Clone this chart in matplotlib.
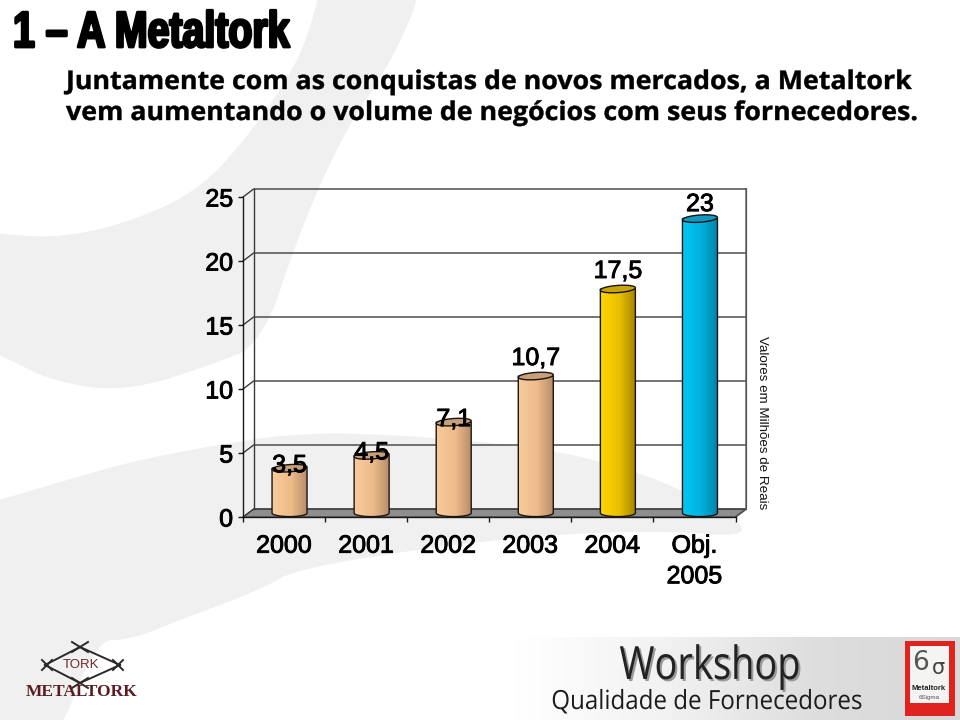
import numpy as np
import matplotlib
matplotlib.use("Agg")
import matplotlib.pyplot as plt
import matplotlib.patheffects as pe
from matplotlib.colors import LinearSegmentedColormap, to_rgb
from matplotlib.patches import Polygon, Rectangle
from matplotlib.transforms import Affine2D

# chart values
years = ["2000", "2001", "2002", "2003", "2004", "Obj.\n2005"]
values = [3.5, 4.5, 7.1, 10.7, 17.5, 23]
value_labels = ["3,5", "4,5", "7,1", "10,7", "17,5", "23"]
y_ticks = [0, 5, 10, 15, 20, 25]

# left, middle, right shade of each cylinder and colour of its lid
tan = ["#f8cb9c", "#eebb8a", "#b98f69"]
gold = ["#ffd600", "#e9c000", "#a88900"]
blue = ["#00c8f6", "#00b0df", "#0087ab"]
bar_shades = [tan, tan, tan, tan, gold, blue]
lid_colors = ["#c79f7a", "#c79f7a", "#c79f7a", "#c79f7a", "#c8a30a", "#1398c3"]
label_lift = [3, 3, 3, 18, 18, 14.5]  # pixels from lid to label centre


class Stretch(pe.AbstractPathEffect):
    # the installed fonts have no condensed cuts, so squeeze the glyphs around x0
    def __init__(self, sx, x0, lw=0.0, dx=0, dy=0, color=None):
        super().__init__()
        self.sx, self.x0, self.lw, self.dx, self.dy, self.color = sx, x0, lw, dx, dy, color

    def draw_path(self, renderer, gc, tpath, affine, rgbFace=None):
        squeeze = Affine2D().translate(-self.x0, 0).scale(self.sx, 1).translate(self.x0 + self.dx, self.dy)
        face = to_rgb(self.color) if self.color is not None else rgbFace
        gc0 = renderer.new_gc()
        gc0.copy_properties(gc)
        gc0.set_foreground(face)
        gc0.set_linewidth(self.lw)
        renderer.draw_path(gc0, tpath, affine + squeeze, face)
        gc0.restore()


def smooth(points, rounds=3):
    # corner cutting so the background bands look like curves
    pts = np.array(points, dtype=float)
    for _ in range(rounds):
        nxt = np.roll(pts, -1, axis=0)
        pts = np.c_[0.75 * pts + 0.25 * nxt, 0.25 * pts + 0.75 * nxt].reshape(-1, 2)
    return pts


plt.rcParams['font.family'] = ['Liberation Sans', 'DejaVu Sans']
fig = plt.figure(figsize=(9.6, 7.2), dpi=100, facecolor="white")

# slide background, drawn in pixel coordinates
bg = fig.add_axes([0, 0, 1, 1])
bg.set_xlim(0, 960)
bg.set_ylim(720, 0)
bg.axis("off")
swoosh = "#f0f0f0"
bg.add_patch(Polygon(smooth([(325, -30), (310, 30), (293, 70), (253, 130), (200, 190), (130, 222), (60, 238),
                             (0, 234), (-80, 225), (-80, 320), (15, 362), (45, 378), (100, 390), (150, 385),
                             (210, 365), (262, 345), (300, 230), (345, 130), (393, 60), (430, -30)]),
                     fc=swoosh, ec="none"))
bg.add_patch(Polygon(smooth([(-80, 520), (0, 500), (60, 482), (130, 462), (200, 448), (300, 432), (420, 436),
                             (560, 450), (665, 480), (770, 538), (650, 530), (500, 538), (300, 567), (260, 590),
                             (180, 620), (130, 640), (95, 640), (50, 760), (-80, 760)]), fc=swoosh, ec="none"))
footer = LinearSegmentedColormap.from_list("footer", ["#ffffff", "#ffffff", "#f2f2f2", "#dedede", "#d8d8d8"])
bg.imshow(np.linspace(0, 1, 256)[None, :], cmap=footer, extent=(370, 960, 720, 637), aspect="auto", zorder=0)
bg.set_xlim(0, 960)
bg.set_ylim(720, 0)

# heading
bg.text(13, 47, "1 – A Metaltork", weight="bold", fontsize=36.5, color="black", va="baseline",
        path_effects=[Stretch(0.775, 13, lw=2.0)])
for line, y in [("Juntamente com as conquistas de novos mercados, a Metaltork", 89),
                ("vem aumentando o volume de negócios com seus fornecedores.", 120)]:
    bg.text(66, y, line, family="Open Sans", weight="bold", fontsize=18.5, color="black", va="baseline",
            path_effects=[Stretch(1.042, 66, lw=0.3)])

# footer texts and logos
bg.text(710, 679, "Workshop", family="Open Sans", fontsize=33, color="#222222", ha="center", va="baseline",
        path_effects=[Stretch(0.83, 710, dx=2, dy=-2, color="#9a9a9a"), Stretch(0.83, 710)])
bg.text(707, 709, "Qualidade de Fornecedores", family="Open Sans", fontsize=19, color="#1c1c1c", ha="center",
        va="baseline", path_effects=[Stretch(0.915, 707)])
for a, b in [((45, 665), (80, 647)), ((80, 647), (120, 665)), ((45, 665), (80, 683)), ((80, 683), (120, 665)),
             ((42, 660), (52, 670)), ((42, 670), (52, 660)), ((113, 660), (123, 670)), ((113, 670), (123, 660)),
             ((72, 642), (88, 652)), ((72, 652), (88, 642)), ((72, 678), (88, 688)), ((72, 688), (88, 678))]:
    bg.plot([a[0], b[0]], [a[1], b[1]], color="#2a2a2a", lw=1.4)
bg.text(81, 665, "TORK", fontsize=9.5, color="#6e2a2c", ha="center", va="center")
bg.text(82, 692, "METALTORK", family="Liberation Serif", weight="bold", fontsize=12.5, color="#5a1c22", ha="center",
        va="center")
bg.add_patch(Rectangle((905, 641), 50, 75, fc="#e0231f", ec="none"))
bg.add_patch(Rectangle((910, 646), 39, 57, fc="#f4f4f2", ec="none"))
bg.text(920, 663, "6", family="DejaVu Sans", fontsize=19, color="#555555", ha="center", va="center")
bg.text(938, 668, "σ", family="DejaVu Sans", fontsize=15, color="#444444", ha="center", va="center")
bg.text(929, 689, "Metaltork", weight="bold", fontsize=5.5, color="#222222", ha="center", va="center")
bg.text(929, 697, "6Sigma", fontsize=4.5, color="#555555", ha="center", va="center")

# chart axes sit on the front plane of the 3D box
ax = fig.add_axes([243 / 960, (720 - 517) / 720, 492.5 / 960, 320 / 720])
ax.patch.set_visible(False)
ax.set_xlim(-0.5, 5.5)
ax.set_ylim(0, 25)
ax.autoscale(False)

px_x = 6 / 492.5  # one pixel in data units
px_y = 25 / 320
depth_x, depth_y = 10.7 * px_x, 8 * px_y
wall = "#3c3c3c"

ax.add_patch(Polygon([(-0.5, 0), (5.5, 0), (5.5 + depth_x, depth_y), (-0.5 + depth_x, depth_y)],
                     fc="#8e8e8e", ec=wall, lw=0.8, clip_on=False, zorder=1))
for t in y_ticks:
    ax.plot([-0.5, -0.5 + depth_x, 5.5 + depth_x], [t, t + depth_y, t + depth_y], color=wall, lw=1.0, clip_on=False,
            zorder=1, solid_joinstyle="miter")
ax.plot([-0.5 + depth_x] * 2, [depth_y, 25 + depth_y], color=wall, lw=1.0, clip_on=False, zorder=1)
ax.plot([5.5, 5.5 + depth_x, 5.5 + depth_x], [0, depth_y, 25 + depth_y], color="#555555", lw=1.3, clip_on=False,
        zorder=1)

# cylinders
x = np.arange(len(values))
half_w = 17.5 * px_x
ry = 3.6 * px_y
tilt = 1.2 * px_y
shift_x, shift_y = 5.5 * px_x, 4 * px_y
ramp = np.linspace(0, 1, 128)[None, :]
t = np.linspace(0, 2 * np.pi, 60)
for xi, v, shades, lid in zip(x, values, bar_shades, lid_colors):
    cx = xi + shift_x
    base = shift_y
    top = v + shift_y
    ax.bar(cx, v, width=2 * half_w, bottom=base, color=shades[1], zorder=2)
    lid_x = cx + half_w * np.cos(t)
    lid_y = top + ry * np.sin(t) + tilt * np.cos(t)
    low = np.linspace(np.pi, 2 * np.pi, 30)
    outline_x = np.r_[cx - half_w, cx + half_w * np.cos(low), cx + half_w]
    outline_y = np.r_[top, base + ry * np.sin(low), top]
    body = Polygon(np.c_[outline_x, outline_y], fc="none", ec="#1a1410", lw=1.0, zorder=4, clip_on=False)
    ax.add_patch(body)
    cmap = LinearSegmentedColormap.from_list("cyl", [(0, shades[0]), (0.55, shades[1]), (1, shades[2])])
    im = ax.imshow(ramp, cmap=cmap, extent=(cx - half_w, cx + half_w, base - ry, top + ry), aspect="auto", zorder=3)
    im.set_clip_path(body)
    ax.add_patch(Polygon(np.c_[lid_x, lid_y], fc=lid, ec="#1a1410", lw=1.0, zorder=4, clip_on=False))

bold_look = [pe.withStroke(linewidth=0.65, foreground="black")]
for xi, v, lab, lift in zip(x, values, value_labels, label_lift):
    ax.annotate(lab, (xi + shift_x, v + shift_y), xytext=(0, lift * 0.72), textcoords="offset points", ha="center",
                va="center", fontsize=18, color="black", zorder=6, path_effects=bold_look)

# axes, ticks and labels
ax.set_xlim(-0.5, 5.5)
ax.set_ylim(0, 25)
for side in ["top", "right"]:
    ax.spines[side].set_visible(False)
for side in ["left", "bottom"]:
    ax.spines[side].set_color("#1a1a1a")
    ax.spines[side].set_linewidth(1.0)
ax.set_yticks(y_ticks)
ax.set_xticks(np.arange(-0.5, 6, 1))
ax.set_xticklabels([])
ax.set_xticks(x, years, minor=True)
ax.tick_params(axis="y", length=3.6, width=1, labelsize=18, pad=3.5, color="#1a1a1a")
ax.tick_params(axis="x", which="major", length=3.6, width=1, color="#1a1a1a")
ax.tick_params(axis="x", which="minor", length=0, labelsize=18, pad=12)
for lab in ax.get_yticklabels() + ax.get_xticklabels(minor=True):
    lab.set_path_effects(bold_look)
    lab.set_linespacing(1.35)

fig.text(762 / 960, 1 - 422.5 / 720, "Valores em Milhões de Reais", rotation=-90, ha="center", va="center",
         fontsize=9.6, color="#111111")

fig.savefig("out.png", dpi=100)
